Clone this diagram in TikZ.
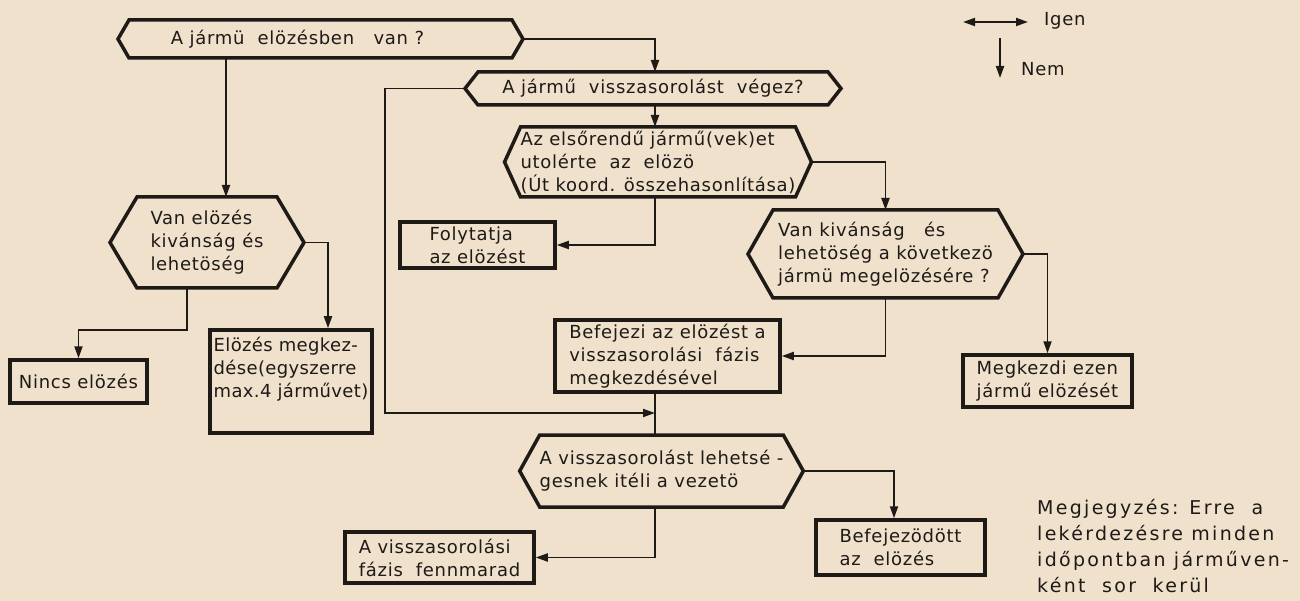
\documentclass[tikz,border=0pt]{standalone}
\usepackage{fontspec}
\setmainfont{DejaVu Sans}[LetterSpace=4]
\usetikzlibrary{arrows.meta,calc}
\definecolor{ink}{RGB}{30,26,22}
\definecolor{paper}{RGB}{240,225,205}
\newcommand\hexshape[2]{%
  \coordinate (#1r) at ($(#1.east)+(#2,0)$);
  \coordinate (#1l) at ($(#1.west)-(#2,0)$);
  \draw[hexline] (#1.north west) -- (#1.north east) -- (#1r) -- (#1.south east) -- (#1.south west) -- (#1l) -- cycle;}
\tikzset{
  hexbody/.style={inner sep=0pt, outer sep=0pt, text=ink},
  hexline/.style={draw=ink, line width=3.5pt, line join=miter},
  boxnode/.style={draw=ink, line width=3.5pt, align=left, inner sep=2pt, text=ink},
  tip/.tip={Triangle[length=12pt,width=8pt]},
  conn/.style={draw=ink, line width=1.9pt, -tip},
  plainline/.style={draw=ink, line width=1.9pt},
  legendtxt/.style={text=ink, inner sep=0pt},
}
\begin{document}
\begin{tikzpicture}[x=1pt,y=-1pt, font=\fontsize{18}{23}\selectfont]
\fill[paper] (0,0) rectangle (1300,601);
\useasboundingbox (0,0) rectangle (1300,601);

% decision shapes (bodies)
\node[hexbody, minimum width=383pt, minimum height=38pt] (h1) at (320.5,39) {A jármü\ \ elözésben\ \ \ van ?\rule{46pt}{0pt}};
\node[hexbody, minimum width=350pt, minimum height=33pt] (h2) at (653,88.5) {A jármű\ \ visszasorolást\ \ végez?};
\node[hexbody, align=left, minimum width=270pt, minimum height=70pt] (h3) at (658,162) {Az elsőrendű jármű(vek)et\\utolérte\ \ az\ \ elözö\\(Út koord. összehasonlítása)};
\node[hexbody, align=left, minimum width=225pt, minimum height=88pt] (h4) at (885.5,254) {Van kivánság\ \ \ és\\lehetöség\ a\ következö\\jármü\ megelözésére ?};
\node[hexbody, align=left, minimum width=239pt, minimum height=72pt] (h5) at (661.5,471) {A visszasorolást lehetsé -\\gesnek itéli a vezetö};
\node[hexbody, align=left, minimum width=140pt, minimum height=91pt] (h6) at (207,242.5) {Van elözés\\kivánság és\\lehetöség};
\hexshape{h1}{11}
\hexshape{h2}{13}
\hexshape{h3}{16}
\hexshape{h4}{25}
\hexshape{h5}{20}
\hexshape{h6}{27}

% process boxes
\node[boxnode, minimum width=155pt, minimum height=46pt] (folyt) at (477.5,245) {Folytatja\\az elözést};
\node[boxnode, minimum width=225pt, minimum height=72pt] (befejezi) at (667.5,356) {Befejezi az elözést a\\visszasorolási\ \ fázis\\megkezdésével};
\node[boxnode, minimum width=169pt, minimum height=52pt] (megk) at (1047.5,381) {Megkezdi ezen\\jármű elözését};
\node[boxnode, minimum width=137pt, minimum height=43pt] (nincs) at (78.5,381.5) {Nincs elözés};
\node[boxnode, minimum width=162pt, minimum height=103pt, font=\fontsize{18}{23}\selectfont\addfontfeature{LetterSpace=2}] (elozes) at (291,381.5) {Elözés megkez-\\dése(egyszerre\\max.4 járművet)\\[6pt]};
\node[boxnode, minimum width=189pt, minimum height=51pt] (avissza) at (439.5,557.5) {A visszasorolási\\fázis\ \ fennmarad};
\node[boxnode, minimum width=169pt, minimum height=55pt] (bef2) at (900.5,547.5) {Befejezödött\\az\ \ elözés};

% connectors
\coordinate (colA) at (655,0);
\coordinate (lft) at (385,413);
\coordinate (b6) at (187,330);
\draw[conn] (h1r) -| (h2.north -| colA);
\draw[conn] (h2.south -| colA) -- (h3.north -| colA);
\draw[conn] (h3.south -| colA) |- (folyt.east);
\draw[conn] (h3r) -| (h4.north);
\draw[conn] (h4.south) |- (befejezi.east);
\draw[conn] (h4r) -| (megk.north);
\draw[conn] (h2l) -| (lft) -- (lft -| colA);
\draw[plainline] (befejezi.south -| colA) -- (h5.north -| colA);
\draw[conn] (h5r) -| (bef2.north -| 894,0);
\draw[conn] (h5.south -| colA) |- (avissza.east);
\draw[conn] (h1.south -| 226,0) -- (h6.north -| 226,0);
\draw[conn] (h6r) -| (elozes.north -| 328,0);
\draw[conn] (h6.south -| b6) -- (b6) -| (nincs.north);

% legend
\coordinate (ia) at (963,22);
\coordinate (ib) at (1028,22);
\coordinate (na) at (1000,38);
\coordinate (nb) at (1000,78);
\draw[plainline, tip-tip] (ia) -- (ib);
\draw[conn] (na) -- (nb);
\node[legendtxt, anchor=west] (igen) at (1044,21) {Igen};
\node[legendtxt, anchor=west] (nem) at (1021,69) {Nem};

% note
\node[legendtxt, anchor=north west, align=left, font=\fontsize{19}{26}\selectfont\addfontfeature{LetterSpace=12}] (note) at (1037,499) {Megjegyzés: Erre\ \ a\\lekérdezésre minden\\időpontban járműven-\\ként\ \ sor\ \ kerül};
\end{tikzpicture}
\end{document}
